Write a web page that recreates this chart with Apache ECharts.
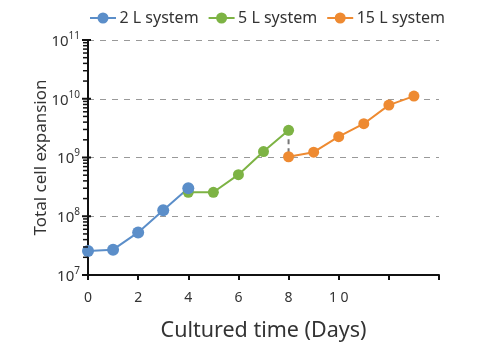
<!DOCTYPE html>
<html><head><meta charset="utf-8">
<script src="https://cdn.jsdelivr.net/npm/echarts@6/dist/echarts.min.js"></script>
<style>html,body{margin:0;padding:0;background:#fff}#c{width:490px;height:343px}</style>
</head><body><div id="c"></div>
<script>
var seriesNames = ['2 L system', '5 L system', '15 L system'];
var days2L = [0, 1, 2, 3, 4];
var values2L = [2.55e7, 2.7e7, 5.3e7, 1.26e8, 3.0e8];
var days5L = [4, 5, 6, 7, 8];
var values5L = [2.56e8, 2.56e8, 5.1e8, 1.26e9, 2.9e9];
var days15L = [8, 9, 10, 11, 12, 13];
var values15L = [1.03e9, 1.23e9, 2.26e9, 3.76e9, 7.8e9, 1.11e10];
var xTickLabels = ['0', '2', '4', '6', '8', '1 0', '', ''];
var yTickExponents = [7, 8, 9, 10, 11];
var minorTickMultipliers = [2, 3, 4, 5, 6, 7, 8, 9];

var colors = ['#5b8ec9', '#7db344', '#ee8a31'];
function pairs(xs, ys) { return xs.map(function (x, i) { return [x, ys[i]]; }); }
var ticks = [];
yTickExponents.forEach(function (e, i) {
  ticks.push([0, Math.pow(10, e), 1]);
  if (i < yTickExponents.length - 1) {
    minorTickMultipliers.forEach(function (m) { ticks.push([0, m * Math.pow(10, e), 0]); });
  }
});
var font = 'Noto Sans';
function lineSeries(name, data, color, size) {
  return {
    name: name, type: 'line', data: data, symbol: 'circle', symbolSize: size,
    itemStyle: { color: color }, lineStyle: { color: color, width: 2 }, z: 3
  };
}
var chart = echarts.init(document.getElementById('c'), null, { renderer: 'canvas' });
chart.setOption({
  animation: false,
  textStyle: { fontFamily: font },
  legend: {
    data: seriesNames, top: 5, left: 85, itemWidth: 27, itemHeight: 11, itemGap: 10,
    textStyle: { fontFamily: font, fontSize: 16, color: '#333', padding: [0, 0, 0, -2] },
    icon: 'path://M0,4.5 L26,4.5 L26,6.5 L0,6.5 Z M13,0 A5.5,5.5 0 1 1 12.99,0 Z'
  },
  grid: { left: 88, right: 51, top: 40, bottom: 68, containLabel: false, outerBoundsMode: 'none' },
  xAxis: {
    type: 'value', min: 0, max: 14, interval: 2,
    name: 'Cultured time (Days)', nameLocation: 'middle', nameGap: 45, nameMoveOverlap: false,
    nameTextStyle: { fontFamily: font, fontSize: 21.5, color: '#333' },
    axisLine: { lineStyle: { color: '#111', width: 2 } },
    axisTick: { length: 5, lineStyle: { color: '#111', width: 2 } },
    axisLabel: {
      margin: 16, fontSize: 14, color: '#333', fontFamily: font,
      formatter: function (v) { return xTickLabels[Math.round(v / 2)]; }
    },
    splitLine: { show: false }
  },
  yAxis: {
    type: 'log', logBase: 10, min: 1e7, max: 1e11,
    name: 'Total cell expansion', nameLocation: 'middle', nameGap: 38, nameMoveOverlap: false,
    nameTextStyle: { fontFamily: font, fontSize: 17, color: '#333' },
    axisLine: { show: true, lineStyle: { color: '#111', width: 2 } },
    axisTick: { show: false },
    axisLabel: {
      margin: 8, color: '#333', fontFamily: font,
      formatter: function (v) { return '{b|10}{s|' + Math.round(Math.log10(v)) + '}'; },
      rich: {
        b: { fontSize: 15, fontFamily: font, color: '#333', verticalAlign: 'bottom' },
        s: { fontSize: 10, fontFamily: font, color: '#333', verticalAlign: 'top', padding: [0, 0, 8, 0] }
      }
    },
    splitLine: { show: true, lineStyle: { color: '#999', type: [6, 6], width: 1 } }
  },
  series: [
    lineSeries(seriesNames[1], pairs(days5L, values5L), colors[1], 11),
    lineSeries(seriesNames[2], pairs(days15L, values15L), colors[2], 11),
    lineSeries(seriesNames[0], pairs(days2L, values2L), colors[0], 12),
    {
      type: 'line', silent: true, symbol: 'none', z: 2,
      data: [[days5L[days5L.length - 1], values5L[values5L.length - 1]], [days15L[0], values15L[0]]],
      lineStyle: { color: '#777', width: 2, type: [5, 4] }
    },
    {
      type: 'custom', silent: true, clip: false, z: 5, data: ticks,
      renderItem: function (params, api) {
        var p = api.coord([api.value(0), api.value(1)]);
        var major = api.value(2) === 1;
        return { type: 'line',
          shape: { x1: p[0] - (major ? 6 : 5), y1: p[1], x2: p[0] + (major ? 3 : 0), y2: p[1] },
          style: { stroke: '#111', lineWidth: major ? 2 : 1.5 } };
      }
    }
  ]
});
</script></body></html>
